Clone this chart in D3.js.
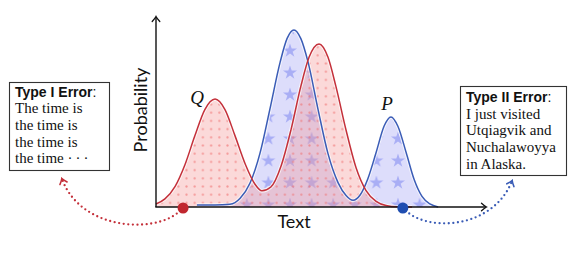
<!DOCTYPE html>
<html>
<head>
<meta charset="utf-8">
<script src="https://cdn.jsdelivr.net/npm/d3@7"></script>
<style>
  html, body { margin: 0; padding: 0; background: #fff; }
  svg { display: block; }
</style>
</head>
<body>
<div id="vis"></div>
<script>
// ── DATA ───────────────────────────────────────────────────────────────────────
// Q (red, dotted fill)
const qX = [0, 0.27, 0.58, 0.88, 1.18, 1.48, 1.79, 2.09, 2.39, 2.70, 3.00, 3.21, 3.48,
            3.79, 4.09, 4.39, 4.64, 4.94, 5.21, 5.45, 5.76, 6.06, 6.36, 6.67, 6.97, 7.33, 7.76];
const qY = [0.016, 0.043, 0.109, 0.224, 0.376, 0.513, 0.568, 0.513, 0.377, 0.228, 0.120, 0.085, 0.105,
            0.216, 0.406, 0.636, 0.789, 0.858, 0.789, 0.636, 0.404, 0.208, 0.088, 0.030, 0.008, 0.001, 0];
// P (blue, star fill)
const pX = [1.24, 1.79, 2.24, 2.55, 2.85, 3.15, 3.45, 3.76, 3.97, 4.18, 4.39, 4.61, 4.91, 5.21,
            5.52, 5.76, 5.97, 6.18, 6.42, 6.67, 6.91, 7.12, 7.33, 7.58, 7.82, 8.06, 8.30, 8.55];
const pY = [0.010, 0.010, 0.014, 0.046, 0.126, 0.282, 0.514, 0.761, 0.886, 0.932, 0.886, 0.761, 0.514, 0.282,
            0.127, 0.060, 0.035, 0.062, 0.149, 0.287, 0.425, 0.474, 0.425, 0.287, 0.146, 0.056, 0.016, 0];
// error markers on the x axis
const errX = [0.82, 7.48];

const typeOneLines = ["The time is", "the time is", "the time is", "the time \u00B7\u2009\u00B7\u2009\u00B7"];
const typeTwoLines = ["I just visited", "Utqiagvik and", "Nuchalawoyya", "in Alaska."];

// ── CONFIG ─────────────────────────────────────────────────────────────────────
const width  = 586;
const height = 253;
const red    = "#c4303a";
const blue   = "#3a5cb6";

const svg = d3.select("#vis").append("svg")
    .attr("width", width)
    .attr("height", height);

const x = d3.scaleLinear([0, 10], [156, 486]);
const y = d3.scaleLinear([0, 1], [207, 17]);

const Q = qX.map((v, i) => [v, qY[i]]);
const P = pX.map((v, i) => [v, pY[i]]);

// ── DEFS: patterns & arrowheads ────────────────────────────────────────────────
const defs = svg.append("defs");

const dots = defs.append("pattern")
    .attr("id", "dots")
    .attr("patternUnits", "userSpaceOnUse")
    .attr("x", 2).attr("y", 2)
    .attr("width", 8.2).attr("height", 8.2);
dots.append("rect").attr("width", 8.2).attr("height", 8.2)
    .attr("fill", "rgb(244,150,150)").attr("fill-opacity", 0.36);
dots.append("circle").attr("cx", 4.1).attr("cy", 4.1).attr("r", 1.1)
    .attr("fill", "rgb(240,110,110)").attr("fill-opacity", 0.6);

const stars = defs.append("pattern")
    .attr("id", "stars")
    .attr("patternUnits", "userSpaceOnUse")
    .attr("x", 290 - 10.8).attr("y", 50 - 11)
    .attr("width", 21.6).attr("height", 22);
stars.append("rect").attr("width", 21.6).attr("height", 22)
    .attr("fill", "rgb(150,150,245)").attr("fill-opacity", 0.32);
stars.append("path")
    .attr("transform", "translate(10.8,11.8)")
    .attr("d", d3.symbol(d3.symbolStar, 60)())
    .attr("fill", "rgb(125,135,240)").attr("fill-opacity", 0.55);

function chevron(id, color, w) {
  defs.append("marker")
      .attr("id", id)
      .attr("viewBox", "-6 -5 8 10")
      .attr("markerUnits", "userSpaceOnUse")
      .attr("markerWidth", 8).attr("markerHeight", 10)
      .attr("refX", 0).attr("refY", 0)
      .attr("orient", "auto")
    .append("path")
      .attr("d", "M-4.5,-3.8 Q-1.5,-1 0.5,0 Q-1.5,1 -4.5,3.8")
      .attr("fill", "none")
      .attr("stroke", color)
      .attr("stroke-width", w)
      .attr("stroke-linecap", "round");
}
chevron("arrowK", "#111", 1.3);
chevron("arrowR", red, 1.6);
chevron("arrowB", blue, 1.6);

// ── AREAS & CURVES ─────────────────────────────────────────────────────────────
const area = d3.area().curve(d3.curveMonotoneX)
    .x(d => x(d[0])).y0(y(0)).y1(d => y(d[1]));
const line = d3.line().curve(d3.curveMonotoneX)
    .x(d => x(d[0])).y(d => y(d[1]));

svg.append("path").attr("d", area(P)).attr("fill", "url(#stars)");
svg.append("path").attr("d", area(Q)).attr("fill", "url(#dots)");

// soft white halo under the lines
[P, Q].forEach(s => svg.append("path").attr("d", line(s))
    .attr("fill", "none").attr("stroke", "#fff")
    .attr("stroke-opacity", 0.7).attr("stroke-width", 3.6));

svg.append("path").attr("d", line(P))
    .attr("fill", "none").attr("stroke", blue).attr("stroke-width", 1.5);
svg.append("path").attr("d", line(Q))
    .attr("fill", "none").attr("stroke", red).attr("stroke-width", 1.5);

// ── AXES ───────────────────────────────────────────────────────────────────────
svg.append("line")
    .attr("x1", x(0)).attr("y1", y(0))
    .attr("x2", x(0)).attr("y2", y(1))
    .attr("stroke", "#111").attr("stroke-width", 1.4)
    .attr("marker-end", "url(#arrowK)");
svg.append("line")
    .attr("x1", x(0) - 0.7).attr("y1", y(0))
    .attr("x2", x(10)).attr("y2", y(0))
    .attr("stroke", "#111").attr("stroke-width", 1.4)
    .attr("marker-end", "url(#arrowK)");

svg.append("text")
    .attr("transform", `translate(147,${(y(0) + y(1)) / 2 - 2}) rotate(-90)`)
    .attr("text-anchor", "middle")
    .style("font", "18px Lato, 'Open Sans', sans-serif")
    .attr("fill", "#111")
    .text("Probability");
svg.append("text")
    .attr("x", 294).attr("y", 228)
    .attr("text-anchor", "middle")
    .style("font", "18px Lato, 'Open Sans', sans-serif")
    .attr("fill", "#111")
    .text("Text");

svg.append("text")
    .attr("x", 197).attr("y", 104)
    .attr("text-anchor", "middle")
    .style("font", "italic 19px 'Liberation Serif', 'DejaVu Serif', serif")
    .attr("fill", "#111")
    .text("Q");
svg.append("text")
    .attr("x", 387).attr("y", 110)
    .attr("text-anchor", "middle")
    .style("font", "italic 19px 'Liberation Serif', 'DejaVu Serif', serif")
    .attr("fill", "#111")
    .text("P");

// ── ERROR ARROWS ───────────────────────────────────────────────────────────────
svg.append("path")
    .attr("d", `M${x(errX[0])},${y(0)} C165,234 82,234 62,179`)
    .attr("fill", "none").attr("stroke", red)
    .attr("stroke-width", 2.3).attr("stroke-linecap", "round")
    .attr("stroke-dasharray", "0 4.6")
    .attr("marker-end", "url(#arrowR)");
svg.append("path")
    .attr("d", `M${x(errX[1])},${y(0)} C420,232 492,232 512,181`)
    .attr("fill", "none").attr("stroke", blue)
    .attr("stroke-width", 2.3).attr("stroke-linecap", "round")
    .attr("stroke-dasharray", "0 4.6")
    .attr("marker-end", "url(#arrowB)");

svg.selectAll(".err")
  .data(errX)
  .join("circle")
    .attr("class", "err")
    .attr("cx", d => x(d)).attr("cy", y(0) + 1)
    .attr("r", 5.5)
    .attr("fill", (d, i) => i === 0 ? "#c0262e" : "#1f4db0");

// ── TEXT BOXES ─────────────────────────────────────────────────────────────────
function box(x0, y0, w, h, title, lines, ty, ly) {
  const g = svg.append("g").attr("transform", `translate(${x0},${y0})`);
  g.append("rect")
      .attr("width", w).attr("height", h)
      .attr("fill", "#fff").attr("stroke", "#333").attr("stroke-width", 1.1);
  const t = g.append("text")
      .attr("x", 5.5).attr("y", ty)
      .style("font", "bold 14px 'Liberation Sans', Arial, sans-serif")
      .attr("fill", "#111");
  t.append("tspan").text(title);
  t.append("tspan").attr("font-weight", "normal").text(":");
  g.selectAll(".ln")
    .data(lines)
    .join("text")
      .attr("class", "ln")
      .attr("x", 5.5)
      .attr("y", (d, i) => ly + i * 16.6)
      .style("font", "15px 'Liberation Serif', 'Times New Roman', serif")
      .attr("fill", "#111")
      .text(d => d);
}
box(9.5, 82.5, 100, 88, "Type I Error", typeOneLines, 14, 30.8);
box(460.5, 86.5, 106, 89, "Type II Error", typeTwoLines, 15.5, 32.3);
</script>
</body>
</html>
